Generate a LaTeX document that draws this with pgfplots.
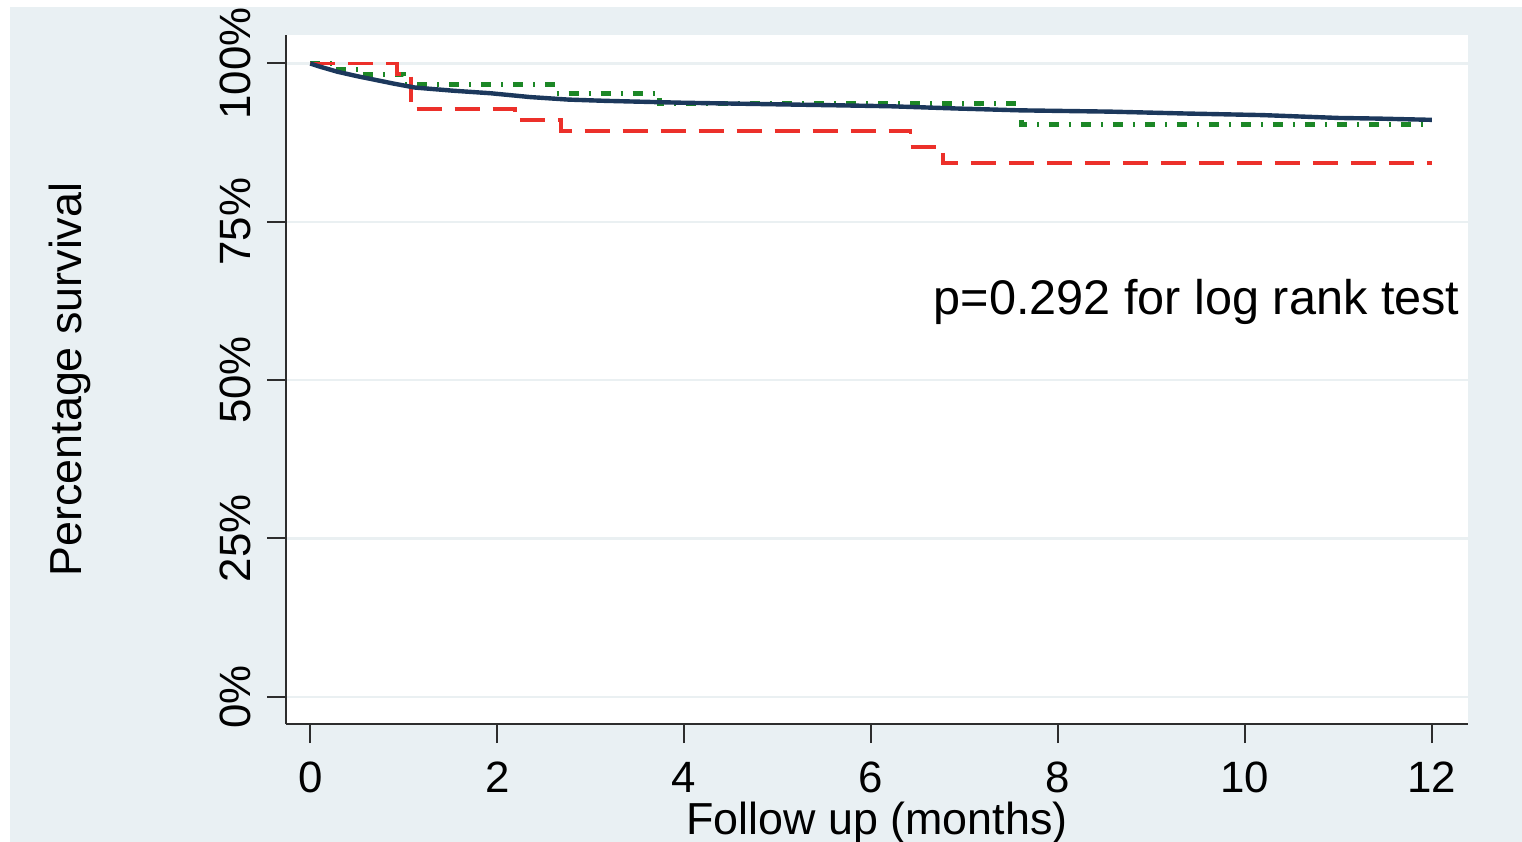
\documentclass[border=0pt]{standalone}
\usepackage{fontspec}
\setmainfont{Liberation Sans}
\usepackage{pgfplots}
\pgfplotsset{compat=1.18}
\definecolor{bgc}{RGB}{233,240,243}
\definecolor{gridc}{RGB}{234,240,242}
\definecolor{axc}{RGB}{45,45,45}
\definecolor{navyc}{RGB}{28,56,92}
\definecolor{redc}{RGB}{236,48,42}
\definecolor{greenc}{RGB}{28,135,38}
\begin{document}
\begin{tikzpicture}
\useasboundingbox (0,0) rectangle (761bp,421bp);
\fill[white] (0,0) rectangle (761bp,421bp);
\fill[bgc] (5bp,0) rectangle (761bp,417.5bp);
\begin{axis}[
  at={(143bp,59bp)}, anchor=south west,
  scale only axis, width=591bp, height=344.5bp,
  xmin=-0.26, xmax=12.387, ymin=-4.3, ymax=104.5,
  axis lines=left, axis line style={-, line width=1bp, color=axc},
  axis background/.style={fill=white},
  xtick={0,2,...,12}, ytick={0,25,50,75,100},
  yticklabels={0\%,25\%,50\%,75\%,100\%},
  tick align=outside, major tick length=9.5bp,
  tick style={line width=1bp, color=axc},
  ymajorgrids, grid style={line width=1.2bp, color=gridc},
  /pgf/number format/assume math mode=true,
  tick label style={font=\fontsize{22}{26}\selectfont},
  xticklabel style={anchor=base, inner sep=0pt},
  yticklabel style={rotate=90, anchor=base, inner sep=0pt},
  xticklabel shift=24.5bp, yticklabel shift=8.5bp,
  xlabel={Follow up (months)}, ylabel={Percentage survival},
  every axis x label/.style={at={(axis description cs:0.5,-0.1611)}, anchor=base, font=\fontsize{22.5}{27}\selectfont},
  every axis y label/.style={at={(axis description cs:-0.18274,0.5)}, rotate=90, anchor=center, font=\fontsize{22.5}{27}\selectfont},
  clip=false,
]
\addplot[const plot, color=greenc, line width=2.5bp, dash pattern=on 5bp off 5bp on 1bp off 5bp] coordinates {
(0,100) (0.30,99.0) (0.54,98.2) (1.0,96.7) (2.59,95.3) (3.74,93.7) (7.61,90.3) (12,90.3)};
\addplot[const plot, color=redc, line width=1.8bp, dash pattern=on 12.5bp off 6.5bp] coordinates {
(0,100) (0.93,98.3) (1.08,92.8) (2.19,91.1) (2.68,89.3) (6.42,86.8) (6.77,84.3) (12,84.3)};
\addplot[color=navyc, line width=2.2bp] coordinates {
(0,100) (0.08,99.6) (0.29,98.7) (0.5,98.0) (0.70,97.4) (0.9,96.8) (1.12,96.2) (1.53,95.7) (1.93,95.3) (2.35,94.7) (2.76,94.3) (3.16,94.1) (3.57,93.95) (3.99,93.8) (4.8,93.6) (5.62,93.4) (6.2,93.25) (6.9,92.9) (7.6,92.6) (8.55,92.4) (9.37,92.1) (10.19,91.85) (11.0,91.4) (11.42,91.3) (12,91.1)};
\node[anchor=base east, font=\fontsize{24.4}{28}\selectfont, inner sep=0pt] at (axis cs:12.30,60.3) {p=0.292 for log rank test};
\end{axis}
\end{tikzpicture}
\end{document}
